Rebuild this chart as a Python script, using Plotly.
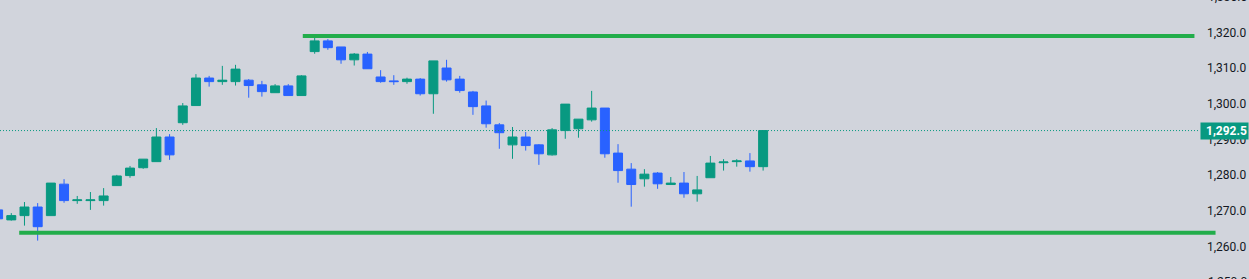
import plotly.graph_objects as go

# ---- data ----
opens  = [1270.3, 1267.5, 1268.7, 1271.1, 1268.7, 1277.5, 1272.9, 1272.9, 1272.9, 1277.1,
          1279.9, 1282.1, 1283.8, 1290.7, 1294.7, 1299.5, 1307.2, 1306.2, 1306.2, 1306.6,
          1305.3, 1303.1, 1305.0, 1302.3, 1314.6, 1317.6, 1315.9, 1312.3, 1313.9, 1307.5,
          1306.4, 1306.2, 1306.9, 1302.8, 1310.0, 1306.9, 1303.3, 1299.4, 1294.1, 1288.5,
          1290.7, 1288.5, 1285.7, 1292.5, 1293.0, 1295.5, 1298.8, 1286.2, 1281.7, 1279.0,
          1280.6, 1277.4, 1277.8, 1274.8, 1279.3, 1283.5, 1283.8, 1284.0, 1282.4]
highs  = [1270.5, 1269.4, 1272.5, 1272.2, 1277.8, 1278.9, 1274.2, 1275.3, 1276.4, 1280.1,
          1282.6, 1284.5, 1293.2, 1291.5, 1300.2, 1308.3, 1307.8, 1310.6, 1310.9, 1306.9,
          1306.4, 1305.5, 1305.5, 1308.0, 1318.4, 1318.1, 1315.9, 1314.2, 1314.5, 1309.4,
          1308.0, 1307.3, 1307.2, 1312.0, 1312.3, 1307.8, 1303.6, 1300.9, 1294.6, 1293.5,
          1292.1, 1288.7, 1293.2, 1299.9, 1295.7, 1303.6, 1298.8, 1288.7, 1283.4, 1281.7,
          1280.9, 1279.5, 1280.9, 1279.8, 1285.4, 1284.5, 1284.5, 1286.2, 1292.5]
lows   = [1267.6, 1267.3, 1265.9, 1261.7, 1268.7, 1272.3, 1272.0, 1270.3, 1271.5, 1277.1,
          1279.3, 1281.8, 1283.8, 1284.3, 1294.1, 1299.5, 1304.8, 1305.3, 1305.1, 1301.7,
          1302.0, 1303.1, 1302.3, 1302.3, 1314.0, 1315.1, 1311.2, 1310.7, 1309.8, 1305.9,
          1305.3, 1305.6, 1302.3, 1297.2, 1306.2, 1303.1, 1296.9, 1293.3, 1287.4, 1284.6,
          1286.9, 1282.9, 1285.5, 1290.2, 1290.5, 1295.0, 1284.9, 1277.9, 1271.2, 1276.8,
          1276.2, 1277.4, 1273.7, 1272.6, 1279.3, 1281.3, 1282.4, 1281.0, 1281.3]
closes = [1267.8, 1268.7, 1271.1, 1265.6, 1277.8, 1272.9, 1273.1, 1273.1, 1274.2, 1279.8,
          1282.0, 1284.5, 1290.7, 1285.7, 1299.4, 1307.2, 1306.2, 1306.6, 1309.7, 1305.1,
          1303.4, 1305.0, 1302.3, 1307.8, 1317.6, 1315.7, 1312.3, 1313.9, 1309.8, 1306.2,
          1306.2, 1306.9, 1302.8, 1312.0, 1306.7, 1303.7, 1299.2, 1294.4, 1291.9, 1290.7,
          1288.3, 1286.0, 1292.7, 1299.9, 1295.7, 1298.8, 1286.0, 1281.3, 1277.4, 1280.3,
          1277.6, 1277.8, 1274.8, 1275.9, 1283.4, 1283.7, 1284.0, 1282.4, 1292.5]
bar_index = list(range(len(opens)))

current_price = 1292.5
level_prices = [1319.0, 1263.9]          # resistance, support
level_start = [23.1, 1.6]                # bar index where each level starts
level_end = [90.7, 92.3]                 # bar index where each level ends
price_ticks = [1260, 1270, 1280, 1290, 1300, 1310, 1320]
edge_ticks = [1330, 1250]

X_RANGE = [0.144, 90.97]
Y_RANGE = [1250.96, 1329.04]

UP = "#089981"
DOWN = "#2962FF"
BG = "#D1D4DC"
LEVEL = "#22AD4B"
TXT = "#131722"
FONT = "Roboto"

fig = go.Figure()
fig.add_trace(go.Candlestick(
    x=bar_index, open=opens, high=highs, low=lows, close=closes,
    increasing=dict(line=dict(color=UP, width=1), fillcolor=UP),
    decreasing=dict(line=dict(color=DOWN, width=1), fillcolor=DOWN),
    whiskerwidth=0, hoverinfo="skip", showlegend=False,
))

def to_paper(i):
    return (i - X_RANGE[0]) / (X_RANGE[1] - X_RANGE[0])

shapes = []
for p, s, e in zip(level_prices, level_start, level_end):
    shapes.append(dict(type="line", xref="paper", yref="y",
                       x0=to_paper(s), x1=to_paper(e), y0=p, y1=p,
                       line=dict(color=LEVEL, width=4)))
shapes.append(dict(type="line", xref="paper", yref="y", x0=0, x1=1,
                   y0=current_price, y1=current_price,
                   line=dict(color=UP, width=1, dash="1px,2px")))

annotations = [dict(xref="paper", yref="y", x=1, y=current_price, xanchor="left",
                    xshift=2, text="<b>{:,.1f}</b>".format(current_price),
                    showarrow=False, bgcolor=UP, width=45, height=14, borderpad=1,
                    align="right", font=dict(family=FONT, size=12, color="white"))]
for t in edge_ticks:
    annotations.append(dict(xref="paper", yref="paper", x=1, xanchor="left", xshift=8,
                            y=(t - Y_RANGE[0]) / (Y_RANGE[1] - Y_RANGE[0]),
                            yanchor="middle", text="{:,.1f}".format(t), showarrow=False,
                            font=dict(family=FONT, size=12, color=TXT)))

fig.update_layout(
    width=1249, height=279,
    margin=dict(l=0, r=51, t=0, b=0),
    paper_bgcolor=BG, plot_bgcolor=BG,
    boxgap=0.32, boxgroupgap=0,
    shapes=shapes, annotations=annotations,
    xaxis=dict(visible=False, range=X_RANGE, rangeslider=dict(visible=False)),
    yaxis=dict(side="right", range=Y_RANGE, showgrid=False, zeroline=False,
               showline=False, ticks="", tickvals=price_ticks,
               ticktext=["{:,.1f}".format(v) for v in price_ticks],
               tickfont=dict(family=FONT, size=12, color=TXT),
               ticklabelstandoff=8),
    showlegend=False,
)

fig.write_html("out.html")
